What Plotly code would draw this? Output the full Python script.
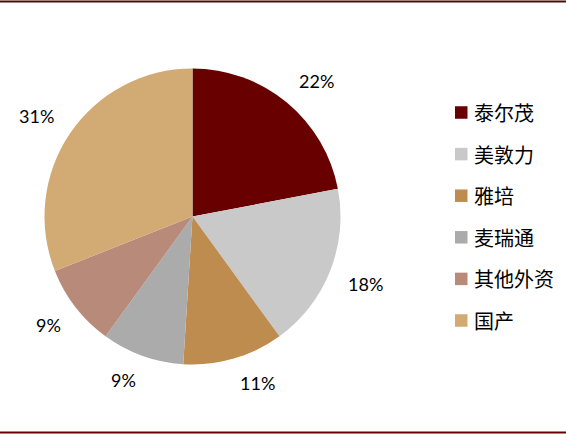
import math
import plotly.graph_objects as go

labels = ["泰尔茂", "美敦力", "雅培", "麦瑞通", "其他外资", "国产"]
values = [22, 18, 11, 9, 9, 31]
colors = ["#690000", "#C9C9C9", "#BE8C4E", "#ABABAB", "#B88A7A", "#D2AA74"]

W, H = 566, 436
cx, cy, R = 192.5, 216.5, 148
label_r = 167  # radius of the label box corner nearest the pie

fig = go.Figure(go.Pie(
    labels=labels, values=values, sort=False, direction="clockwise", rotation=0,
    marker=dict(colors=colors, line=dict(width=0)),
    textinfo="none", hoverinfo="label+percent", showlegend=False,
    domain=dict(x=[(cx - R) / W, (cx + R) / W], y=[(H - cy - R) / H, (H - cy + R) / H]),
))

total = sum(values)
cum = 0
annotations = []
for v in values:
    mid = (cum + v / 2) / total * 2 * math.pi
    cum += v
    txt = f"{round(v / total * 100)}%"
    hw, hh = 6 * len(txt), 6.5
    s, c = math.sin(mid), math.cos(mid)
    px = cx + label_r * s + math.copysign(hw, s)
    py = cy - label_r * c - math.copysign(hh, c)
    annotations.append(dict(
        x=px / W, y=(H - py) / H, xref="paper", yref="paper",
        text=txt, showarrow=False,
        font=dict(family="Lato, Open Sans, sans-serif", size=18, color="#000000"),
        xanchor="center", yanchor="middle",
    ))

shapes = [
    dict(type="line", xref="paper", yref="paper", x0=0, x1=1, y0=(H - 1.5) / H, y1=(H - 1.5) / H,
         line=dict(color="#4A0C0C", width=2)),
    dict(type="line", xref="paper", yref="paper", x0=0, x1=1, y0=(H - 432.5) / H, y1=(H - 432.5) / H,
         line=dict(color="#690000", width=2)),
]

# legend
leg_x0, leg_y0, leg_dy, sq = 455, 112.5, 41.6, 12.5
for i, (lab, col) in enumerate(zip(labels, colors)):
    yc = leg_y0 + i * leg_dy
    shapes.append(dict(type="rect", xref="paper", yref="paper",
                       x0=leg_x0 / W, x1=(leg_x0 + sq) / W,
                       y0=(H - yc - sq / 2) / H, y1=(H - yc + sq / 2) / H,
                       fillcolor=col, line=dict(width=0)))
    annotations.append(dict(
        x=(leg_x0 + sq + 4) / W, y=(H - yc) / H, xref="paper", yref="paper",
        text=lab, showarrow=False, xanchor="left", yanchor="middle",
        font=dict(family="Noto Sans CJK SC, sans-serif", size=20, color="#000000"),
    ))

fig.update_layout(
    width=W, height=H, margin=dict(l=0, r=0, t=0, b=0),
    paper_bgcolor="white", plot_bgcolor="white",
    shapes=shapes, annotations=annotations, showlegend=False,
)

fig.write_html("out.html", config={"displayModeBar": False},
               post_script="document.body.style.margin='0';document.body.style.overflow='hidden';")
